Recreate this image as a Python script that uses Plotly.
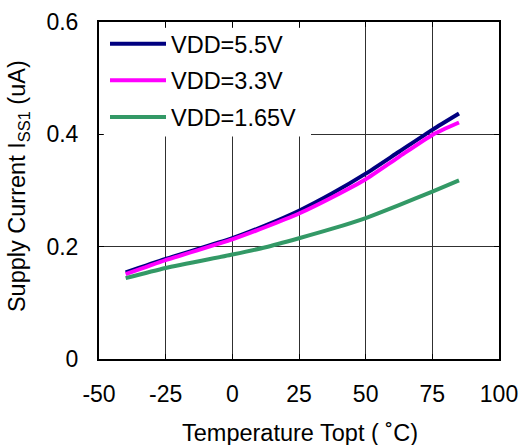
import plotly.graph_objects as go

temps = [-40, -25, 0, 12.5, 25, 37.5, 50, 62.5, 75, 85]
vdd55 = [0.154, 0.178, 0.215, 0.238, 0.264, 0.295, 0.330, 0.369, 0.408, 0.437]
vdd33 = [0.151, 0.176, 0.213, 0.235, 0.259, 0.288, 0.320, 0.360, 0.399, 0.421]
vdd165 = [0.144, 0.162, 0.186, 0.199, 0.215, 0.232, 0.251, 0.274, 0.298, 0.318]

x_ticks = [-50, -25, 0, 25, 50, 75, 100]
x_ticktext = ["-50", "-25", "0", "25", "50", "75", "100"]
y_ticks = [0, 0.2, 0.4, 0.6]
y_ticktext = ["0", "0.2", "0.4", "0.6"]

series = [
    ("VDD=5.5V", vdd55, "#000080"),
    ("VDD=3.3V", vdd33, "#FF00FF"),
    ("VDD=1.65V", vdd165, "#339966"),
]

FONT = "Liberation Sans, Arial, sans-serif"

fig = go.Figure()
for i, (name, vals, col) in enumerate(series):
    fig.add_trace(go.Scatter(
        x=temps, y=vals, mode="lines", name=name,
        line=dict(color=col, width=4, shape="spline", smoothing=0.6),
        legendgroup=f"g{i}",
    ))

axis_common = dict(
    showline=True, linecolor="black", linewidth=2, mirror="ticks",
    ticks="inside", ticklen=5, tickcolor="black", tickwidth=1,
    showgrid=True, gridcolor="#303030", gridwidth=1, zeroline=False,
    tickfont=dict(family=FONT, size=23, color="black"),
    automargin=False,
)

# white panel behind the legend (hides the gridlines there, as in the reference)
fig.add_shape(type="rect", xref="paper", yref="paper",
              x0=0.012, x1=0.53, y0=0.66, y1=0.982,
              fillcolor="white", line=dict(width=0), layer="above")

fig.add_annotation(text="Temperature Topt ( ˚C)", xref="paper", yref="paper",
                   x=0.5025, y=-0.219, xanchor="center", yanchor="middle",
                   showarrow=False, font=dict(family=FONT, size=23.5, color="black"))
fig.add_annotation(text="Supply Current I<sub>SS1</sub> (uA)", xref="paper", yref="paper",
                   x=-0.201, y=0.512, xanchor="center", yanchor="middle", textangle=-90,
                   showarrow=False, font=dict(family=FONT, size=23.5, color="black"))

fig.update_layout(
    width=522, height=445,
    margin=dict(l=99, r=23, t=22, b=86),
    paper_bgcolor="white", plot_bgcolor="white",
    font=dict(family=FONT, size=23, color="black"),
    showlegend=True,
    legend=dict(
        x=0.015, y=1, xanchor="left", yanchor="top",
        bgcolor="rgba(0,0,0,0)", borderwidth=0,
        font=dict(family=FONT, size=23.5, color="black"),
        itemwidth=56, tracegroupgap=3, traceorder="grouped",
    ),
    xaxis=dict(
        range=[-50, 100], tickvals=x_ticks, ticktext=x_ticktext,
        ticklabelstandoff=13,
        **axis_common,
    ),
    yaxis=dict(
        range=[0, 0.6], tickvals=y_ticks, ticktext=y_ticktext,
        ticklabelstandoff=14,
        **axis_common,
    ),
)

fig.write_html("out.html", config={"displayModeBar": False},
               post_script="document.body.style.margin='0';")
